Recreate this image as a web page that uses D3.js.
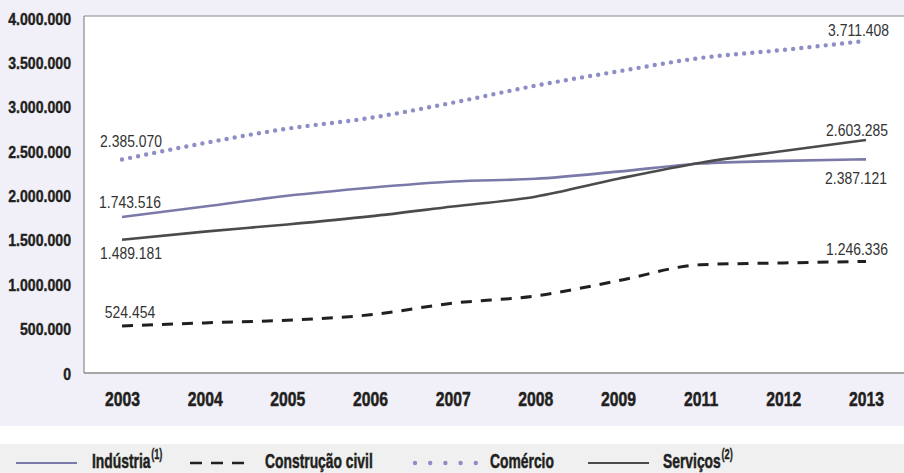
<!DOCTYPE html>
<html><head><meta charset="utf-8">
<script src="https://cdn.jsdelivr.net/npm/d3@7"></script>
<style>
html,body{margin:0;padding:0;background:#fff;}
svg{display:block;}
</style></head>
<body>
<svg id="chart" width="904" height="473"></svg>
<script>
const years = ["2003","2004","2005","2006","2007","2008","2009","2011","2012","2013"];
const industria  = [1743516,1860000,1980000,2070000,2140000,2170000,2250000,2340000,2370000,2387121];
const construcao = [524454,560000,590000,650000,780000,860000,1030000,1210000,1230000,1246336];
const comercio   = [2385070,2570000,2730000,2850000,3020000,3210000,3370000,3520000,3610000,3711408];
const servicos   = [1489181,1580000,1660000,1750000,1860000,1970000,2170000,2350000,2480000,2603285];
const yTicks = [0,500000,1000000,1500000,2000000,2500000,3000000,3500000,4000000];
const seriesNames = ["Indústria","Construção civil","Comércio","Serviços"];
const seriesSup = ["(1)","","","(2)"];

const fmt = v => d3.format(",")(v).replace(/,/g,".");
const svg = d3.select("#chart");
const W = 904, H = 473;
const plot = {left:84, right:904, top:16, bottom:373};
const font = "'Liberation Sans',Arial,sans-serif";

// horizontal condensing around anchor x
function squeeze(sel, sx, ax, ay){
  sel.attr("transform", `translate(${ax},${ay}) scale(${sx},1)`);
}

// backgrounds
svg.append("rect").attr("x",0).attr("y",0).attr("width",W).attr("height",426).attr("fill","#f1f0f9");
svg.append("rect").attr("x",0).attr("y",426).attr("width",W).attr("height",18).attr("fill","#ffffff");
svg.append("rect").attr("x",0).attr("y",444).attr("width",W).attr("height",29).attr("fill","#eff0ef");
svg.append("rect").attr("x",plot.left).attr("y",plot.top).attr("width",plot.right-plot.left).attr("height",plot.bottom-plot.top).attr("fill","#fff");

const x = d3.scalePoint().domain(years).range([122,866]);
const y = d3.scaleLinear().domain([0,4000000]).range([373,15]);
const yLab = d3.scaleLinear().domain([0,4000000]).range([373,18]);

// borders
svg.append("line").attr("x1",plot.left).attr("x2",plot.right).attr("y1",plot.top).attr("y2",plot.top).attr("stroke","#8a8a8a").attr("stroke-width",1.2);
svg.append("line").attr("x1",plot.left).attr("x2",plot.left).attr("y1",plot.top).attr("y2",plot.bottom).attr("stroke","#8a8a8a").attr("stroke-width",1.2);
svg.append("line").attr("x1",plot.left).attr("x2",plot.right).attr("y1",plot.bottom).attr("y2",plot.bottom).attr("stroke","#8a8a8a").attr("stroke-width",1.5);

// y axis labels
const yAxis = d3.axisLeft(yLab).tickValues(yTicks).tickFormat(fmt).tickSize(0).tickPadding(0);
const ga = svg.append("g").attr("transform","translate(71,0)").call(yAxis);
ga.select(".domain").remove();
ga.selectAll("text").attr("font-family",font).attr("font-weight","bold").attr("font-size","17px")
  .attr("fill","#231f20").attr("stroke","#231f20").attr("stroke-width",0.4)
  .attr("x",0).attr("dy","0.36em").attr("transform","scale(0.83,1)");

// x axis labels
const xAxis = d3.axisBottom(x).tickSize(0).tickPadding(0);
const gx = svg.append("g").attr("transform","translate(0,406)").call(xAxis);
gx.select(".domain").remove();
gx.selectAll("text").attr("font-family",font).attr("font-weight","bold").attr("font-size","21px")
  .attr("fill","#231f20").attr("stroke","#231f20").attr("stroke-width",0.5)
  .attr("y",0).attr("dy",0).attr("transform","scale(0.75,1)");

const line = d3.line().x((d,i)=>x(years[i])).y(d=>y(d)).curve(d3.curveMonotoneX);

const styles = [
  {data:industria, stroke:"#7a79a8", width:2.6, dash:null, cap:"butt"},
  {data:construcao, stroke:"#231f20", width:3, dash:"11,9", cap:"butt"},
  {data:comercio, stroke:"#8e8dc6", width:4.4, dash:"0,8.2", cap:"round"},
  {data:servicos, stroke:"#4a4b4a", width:2.6, dash:null, cap:"butt"}
];
styles.forEach(s=>{
  svg.append("path").attr("d",line(s.data)).attr("fill","none")
    .attr("stroke",s.stroke).attr("stroke-width",s.width)
    .attr("stroke-dasharray",s.dash).attr("stroke-linecap",s.cap);
});

// data labels: [series, index, dx, dy, anchor]
const labels = [
  [comercio,0,9,-13,"middle"],
  [industria,0,8,-9,"middle"],
  [servicos,0,9,19,"middle"],
  [construcao,0,8,-8,"middle"],
  [comercio,9,23,-5,"end"],
  [servicos,9,22,-4,"end"],
  [industria,9,21,25,"end"],
  [construcao,9,22,-6,"end"]
];
labels.forEach(l=>{
  const v = l[0][l[1]];
  const t = svg.append("text").attr("x",0).attr("y",0)
    .attr("text-anchor",l[4]).attr("font-family",font).attr("font-size","17px")
    .attr("fill","#333").text(fmt(v));
  squeeze(t, 0.82, x(years[l[1]])+l[2], y(v)+l[3]);
});

// legend
const legY = 463;
const leg = [
  {x1:16,x2:77,tx:92},
  {x1:190,x2:252,tx:265},
  {x1:415,x2:478,tx:490},
  {x1:588,x2:649,tx:663}
];
leg.forEach((l,i)=>{
  const s = styles[i];
  if(i===2){
    svg.append("line").attr("x1",l.x1).attr("x2",l.x2).attr("y1",legY).attr("y2",legY)
      .attr("stroke",s.stroke).attr("stroke-width",4.4).attr("stroke-linecap","round").attr("stroke-dasharray","0,15.2");
  } else {
    svg.append("line").attr("x1",l.x1).attr("x2",l.x2).attr("y1",legY).attr("y2",legY)
      .attr("stroke",s.stroke).attr("stroke-width",i===1?2.4:2).attr("stroke-dasharray",i===1?"12,9":null);
  }
  const t = svg.append("text").attr("x",0).attr("y",0).attr("font-family",font)
    .attr("font-weight","bold").attr("font-size","21px").attr("fill","#231f20")
    .attr("stroke","#231f20").attr("stroke-width",0.5).text(seriesNames[i]);
  if(seriesSup[i]) t.append("tspan").attr("font-size","14px").attr("stroke-width",0.3).attr("dx","1").attr("dy","-9").text(seriesSup[i]);
  squeeze(t, 0.66, l.tx, 468);
});
</script>
</body></html>
